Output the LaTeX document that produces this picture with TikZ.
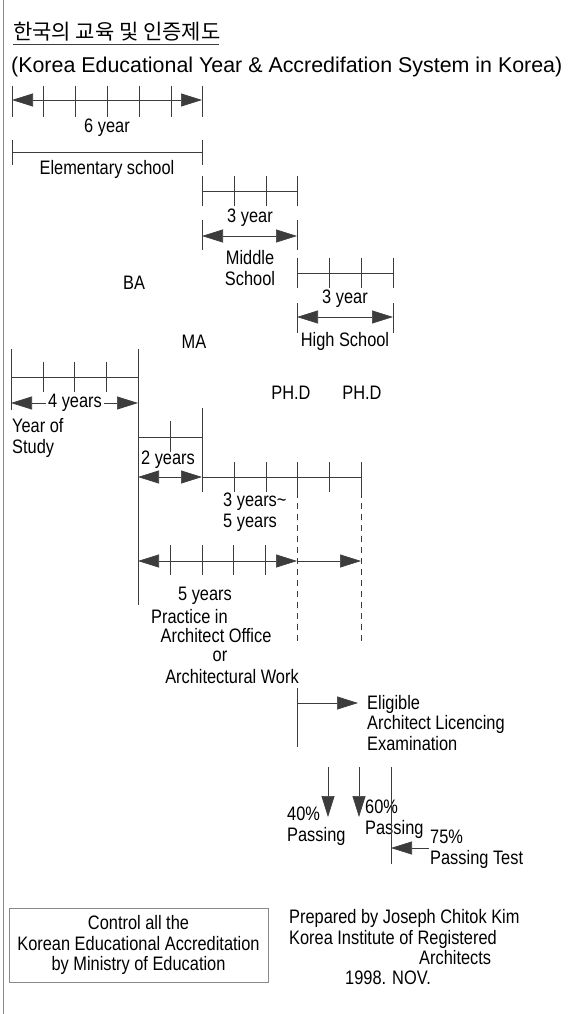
\documentclass[tikz,border=0pt]{standalone}
\usepackage{fontspec}
\setmainfont{Liberation Sans}[FakeStretch=0.84]
\newfontfamily\titlefont{Liberation Sans}
\newfontfamily\kofont{Noto Sans CJK KR}
\usetikzlibrary{arrows.meta}
\definecolor{lineGray}{HTML}{3C3C3C}
\definecolor{frameGray}{HTML}{8A8A8A}

\begin{document}
\begin{tikzpicture}[x=1pt, y=-1pt,
    every node/.style={inner sep=1pt, font=\fontsize{19.5}{20.5}\selectfont},
    bar/.style={lineGray, line width=0.7pt},
    yrtick/.style={lineGray, line width=0.7pt},
    dimarrow/.style={lineGray, line width=0.7pt, {Triangle[length=21pt,width=13pt]}-{Triangle[length=21pt,width=13pt]}},
    onearrow/.style={lineGray, line width=0.7pt, -{Triangle[length=21pt,width=13pt]}},
    guide/.style={lineGray, line width=0.7pt, dash pattern=on 6pt off 5pt}]
    \useasboundingbox (0,0) rectangle (572,1014);

    % Frame line
    \draw[frameGray, line width=0.6pt] (3,0) -- (3,1014);

    % Title
    \node[anchor=west, font=\kofont\fontsize{21}{22}\selectfont] (kotitle) at (12,32) {한국의 교육 및 인증제도};
    \draw[lineGray, line width=0.8pt] (13,44) -- (219,44);
    \node[anchor=west, font=\titlefont\fontsize{21.4}{23}\selectfont] (entitle) at (10,67)
        {(Korea Educational Year \& Accredifation System in Korea)};

    % Elementary school
    \draw[yrtick] (12,86) -- (12,117) (43,86) -- (43,117) (75,86) -- (75,117) (107,86) -- (107,117)
        (139,86) -- (139,117) (171,86) -- (171,117) (202,86) -- (202,117);
    \draw[dimarrow] (12,100) -- (202,100);
    \node (six) at (107,128) {6 year};
    \draw[bar] (12,140) -- (12,165) (12,152) -- (202,152) (202,140) -- (202,165);
    \node (elem) at (107,169) {Elementary school};

    % Middle school
    \draw[yrtick] (202,176) -- (202,206) (234,176) -- (234,206) (266,176) -- (266,206) (297,176) -- (297,206);
    \draw[bar] (202,191) -- (297,191);
    \node (three1) at (250,218) {3 year};
    \draw[yrtick] (202,220) -- (202,250) (297,220) -- (297,250);
    \draw[dimarrow] (202,236) -- (297,236);
    \node[align=center] (middle) at (250,268) {Middle\\School};

    % High school
    \draw[yrtick] (297,258) -- (297,288) (329,258) -- (329,288) (361,258) -- (361,288) (393,258) -- (393,288);
    \draw[bar] (297,273) -- (393,273);
    \node (three2) at (345,299) {3 year};
    \draw[yrtick] (297,303) -- (297,333) (393,303) -- (393,333);
    \draw[dimarrow] (297,317) -- (393,317);
    \node (high) at (345,341) {High School};

    \node (ba) at (134,283) {BA};
    \node (ma) at (194,342) {MA};

    % BA
    \draw[yrtick] (11,349) -- (11,410) (43,362) -- (43,392) (74,362) -- (74,392) (106,362) -- (106,392)
        (138,349) -- (138,605);
    \draw[bar] (11,377) -- (138,377);
    \draw[dimarrow] (11,403) -- (138,403);
    \node[fill=white, inner sep=2pt] (four) at (75,403) {4 years};
    \node[anchor=west, align=left] (study) at (11,438) {Year of\\Study};

    \node (phd1) at (291,393) {PH.D};
    \node (phd2) at (362,393) {PH.D};

    % MA
    \draw[yrtick] (170,421) -- (170,452) (202,408) -- (202,492);
    \draw[bar] (138,437) -- (202,437);
    \node (two) at (168,460) {2 years};
    \draw[dimarrow] (138,477) -- (202,477);

    % PH.D
    \draw[bar] (202,477) -- (361,477);
    \draw[yrtick] (234,462) -- (234,492) (266,462) -- (266,492) (297,462) -- (297,492)
        (329,462) -- (329,492) (361,462) -- (361,492);
    \draw[guide] (297,492) -- (297,642) (361,492) -- (361,642);
    \node[anchor=west, align=left] (threefive) at (222,512) {3 years\textasciitilde\\5 years};

    % Practice
    \draw[yrtick] (170,545) -- (170,575) (202,545) -- (202,575) (233,545) -- (233,575) (265,545) -- (265,575);
    \draw[dimarrow] (138,561) -- (297,561);
    \draw[onearrow] (297,561) -- (361,561);
    \node[inner sep=0pt] (five) at (205,596) {5 years};
    \node[anchor=west, inner sep=0pt] (practice) at (151,617) {Practice in};
    \node (office) at (216,636) {Architect Office};
    \node (or) at (220,656) {or};
    \node (work) at (232,677) {Architectural Work};

    % Examination
    \draw[bar] (297,688) -- (297,747);
    \node[anchor=west, align=left] (elig) at (366,723) {Eligible\\Architect Licencing\\Examination};
    \draw[onearrow] (297,703) -- (358,703);

    % Passing
    \node[anchor=west, align=left] (pass40) at (286,826) {40\%\\Passing};
    \node[anchor=west, align=left] (pass60) at (364,819) {60\%\\Passing};
    \node[anchor=west, align=left] (pass75) at (429,849) {75\%\\Passing Test};
    \draw[onearrow] (328,767) -- (328,817);
    \draw[onearrow] (359,767) -- (359,817);
    \draw[bar] (391,767) -- (391,864);
    \draw[onearrow] (pass75.west |- 0,848) -- (391,848);

    % Ministry box
    \node[draw=frameGray, line width=0.6pt, align=center, minimum width=259pt, minimum height=74pt] (ministry)
        at (138.5,945) {Control all the\\Korean Educational Accreditation\\by Ministry of Education};

    % Author
    \node[anchor=west] (prep) at (288,918) {Prepared by Joseph Chitok Kim};
    \node[anchor=west] (kira) at (288,939) {Korea Institute of Registered};
    \node[anchor=west] (arch) at (418,958) {Architects};
    \node[anchor=west] (date) at (344,978) {1998. NOV.};
\end{tikzpicture}
\end{document}
